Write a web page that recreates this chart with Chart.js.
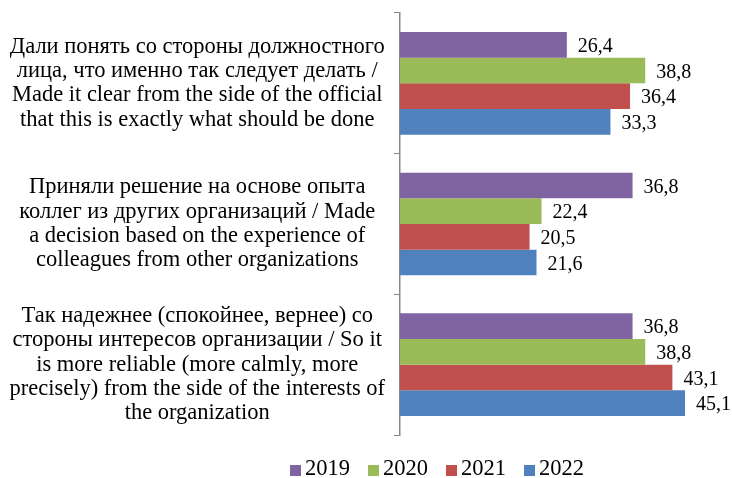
<!DOCTYPE html>
<html>
<head>
<meta charset="utf-8">
<script src="https://cdn.jsdelivr.net/npm/chart.js@4"></script>
<style>
  html, body { margin: 0; padding: 0; background: #fff; }
  #wrap { width: 732px; height: 478px; }
</style>
</head>
<body>
<div id="wrap"><canvas id="myChart"></canvas></div>
<script>
// Categories (multi-line labels as in the figure)
const categories = [
    ['Дали понять со стороны должностного', 'лица, что именно так следует делать /', 'Made it clear from the side of the official', 'that this is exactly what should be done'],
    ['Приняли решение на основе опыта', 'коллег из других организаций / Made', 'a decision based on the experience of', 'colleagues from other organizations'],
    ['Так надежнее (спокойнее, вернее) со', 'стороны интересов организации / So it', 'is more reliable (more calmly, more', 'precisely) from the side of the interests of', 'the organization']
];

// Series values
const years = ['2019', '2020', '2021', '2022'];
const values2019 = [26.4, 36.8, 36.8];
const values2020 = [38.8, 22.4, 38.8];
const values2021 = [36.4, 20.5, 43.1];
const values2022 = [33.3, 21.6, 45.1];

const colors = ['#8064A2', '#9BBB59', '#C0504D', '#4F81BD'];
const fontFamily = '"Liberation Serif", "Times New Roman", serif';

// Draw value labels to the right of each bar
const valueLabels = {
    id: 'valueLabels',
    afterDatasetsDraw(chart) {
        const ctx = chart.ctx;
        ctx.save();
        ctx.font = '20px ' + fontFamily;
        ctx.fillStyle = '#000';
        ctx.textAlign = 'left';
        ctx.textBaseline = 'middle';
        chart.data.datasets.forEach((ds, i) => {
            const meta = chart.getDatasetMeta(i);
            meta.data.forEach((bar, j) => {
                const txt = ds.data[j].toFixed(1).replace('.', ',');
                ctx.fillText(txt, bar.x + 11, bar.y + 2);
            });
        });
        ctx.restore();
    }
};

// Legend under the plot, small square + year, like the original
const bottomLegend = {
    id: 'bottomLegend',
    afterDraw(chart) {
        const ctx = chart.ctx;
        ctx.save();
        ctx.font = '22.5px ' + fontFamily;
        ctx.textBaseline = 'middle';
        ctx.textAlign = 'left';
        const box = 11, gap = 4, spacing = 18;
        const items = chart.data.datasets.map(ds => ({
            label: ds.label, color: ds.backgroundColor,
            w: box + gap + ctx.measureText(ds.label).width
        }));
        const total = items.reduce((s, it) => s + it.w, 0) + spacing * (items.length - 1);
        let x = 437 - total / 2;
        const y = 469;
        items.forEach(it => {
            ctx.fillStyle = it.color;
            ctx.fillRect(x, y - 4, box, box);
            ctx.fillStyle = '#000';
            ctx.fillText(it.label, x + box + gap, y);
            x += it.w + spacing;
        });
        ctx.restore();
    }
};

const data = {
    labels: categories,
    datasets: [
        { label: years[0], data: values2019, backgroundColor: colors[0] },
        { label: years[1], data: values2020, backgroundColor: colors[1] },
        { label: years[2], data: values2021, backgroundColor: colors[2] },
        { label: years[3], data: values2022, backgroundColor: colors[3] }
    ]
};

const config = {
    type: 'bar',
    data,
    options: {
        indexAxis: 'y',
        responsive: true,
        maintainAspectRatio: false,
        animation: false,
        datasets: {
            bar: { barPercentage: 1, categoryPercentage: 0.73 }
        },
        layout: { padding: { top: 13, left: 0, right: 16, bottom: 43 } },
        scales: {
            x: {
                display: false,
                min: 0,
                max: 50
            },
            y: {
                afterFit(scale) {
                    // keep the plot flush with the padding and the axis at x = 400
                    scale.width = 400;
                    scale.paddingTop = 0;
                    scale.paddingBottom = 0;
                },
                grid: {
                    drawOnChartArea: false,
                    tickLength: 6,
                    color: '#888'
                },
                border: { color: '#888', width: 1.5 },
                ticks: {
                    color: '#000',
                    crossAlign: 'center',
                    padding: 9,
                    font: { family: fontFamily, size: 22.5, lineHeight: 1.08 }
                }
            }
        },
        plugins: {
            legend: { display: false },
            tooltip: { enabled: false }
        }
    },
    plugins: [valueLabels, bottomLegend]
};

const myChart = new Chart(document.getElementById('myChart'), config);
</script>
</body>
</html>
